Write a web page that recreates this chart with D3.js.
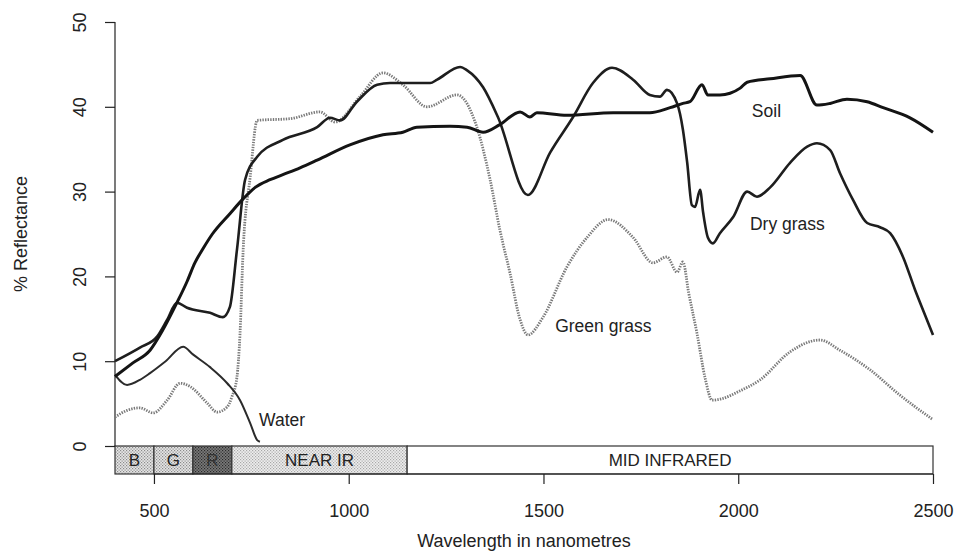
<!DOCTYPE html>
<html>
<head>
<meta charset="utf-8">
<title>Spectral reflectance</title>
<script src="https://d3js.org/d3.v7.min.js"></script>
<style>
  body { margin: 0; background: #fff; }
  text { font-family: "Liberation Sans", Arial, sans-serif; fill: #222; }
</style>
</head>
<body>
<script>
// reflectance curves, [wavelength nm, % reflectance]
var soil = [[400,8.2],[446,9.8],[490,11.3],[523,13.7],[559,16.9],[585,19.4],[605,21.6],[625,23.2],[650,25.0],[695,27.4],
  [730,29.2],[760,30.5],[798,31.4],[831,32.0],[875,32.8],[919,33.7],[1003,35.5],[1088,36.7],[1139,37.0],[1175,37.6],
  [1260,37.7],[1304,37.6],[1345,37.0],[1388,37.9],[1440,39.4],[1465,38.8],[1483,39.3],[1560,39.0],[1679,39.3],[1773,39.3],
  [1825,39.9],[1858,40.4],[1876,40.6],[1907,42.6],[1922,41.4],[1953,41.4],[1979,41.6],[2005,42.2],[2023,42.9],[2082,43.3],
  [2159,43.7],[2202,40.2],[2236,40.4],[2279,40.9],[2331,40.6],[2372,39.9],[2441,38.7],[2500,37.0]];

var dryGrass = [[400,10.0],[464,11.6],[508,12.9],[534,14.9],[559,16.9],[585,16.3],[644,15.7],[677,15.2],[695,16.4],[713,23.1],
  [734,31.4],[765,34.1],[831,36.1],[919,37.6],[952,38.7],[978,38.4],[1021,40.6],[1073,42.6],[1106,42.8],[1209,42.8],
  [1227,43.2],[1286,44.7],[1304,44.3],[1345,42.3],[1383,38.8],[1460,29.6],[1517,34.6],[1576,38.8],[1627,42.8],[1676,44.6],
  [1730,43.2],[1773,41.4],[1799,41.2],[1817,42.0],[1843,40.4],[1858,37.3],[1869,33.4],[1881,28.4],[1889,28.2],[1902,30.2],
  [1910,27.5],[1922,24.6],[1935,23.9],[1953,25.1],[1987,27.0],[2023,30.0],[2048,29.4],[2082,30.5],[2133,33.4],[2177,35.3],
  [2202,35.7],[2236,34.9],[2261,32.2],[2295,29.0],[2331,26.3],[2364,25.8],[2390,25.1],[2423,22.3],[2454,18.4],[2480,15.4],
  [2500,13.1]];

var greenGrass = [[400,3.4],[431,4.2],[464,4.5],[498,3.9],[534,5.4],[567,7.4],[593,7.0],[636,5.1],[662,4.0],[688,4.6],
  [700,5.8],[713,8.1],[721,13.3],[729,23.1],[747,31.7],[765,38.4],[850,38.6],[926,39.4],[965,38.2],[1029,41.2],
  [1088,44.0],[1139,42.6],[1201,40.0],[1278,41.4],[1329,37.6],[1363,31.4],[1388,25.5],[1414,20.4],[1440,14.9],[1460,13.1],
  [1499,15.2],[1560,21.1],[1612,24.6],[1666,26.7],[1730,24.6],[1781,21.6],[1817,22.3],[1843,20.5],[1858,21.7],[1873,18.0],
  [1894,13.3],[1915,8.0],[1933,5.4],[1960,5.6],[2000,6.4],[2056,7.8],[2133,11.1],[2210,12.5],[2261,11.3],[2338,9.0],
  [2415,6.0],[2500,3.1]];

var water = [[400,8.4],[431,7.2],[464,7.8],[490,8.6],[530,10.0],[575,11.7],[600,10.8],[644,9.3],[688,7.4],[721,5.4],
  [747,2.7],[765,0.7],[772,0.5]];

// spectral regions drawn under the plot
var bandNames = ["B", "G", "R", "NEAR IR", "MID INFRARED"];
var bandEdges = [400, 500, 600, 700, 1150, 2500];

var xTicks = [500, 1000, 1500, 2000, 2500];
var yTicks = [0, 10, 20, 30, 40, 50];

var width = 962, height = 556;

var x = d3.scaleLinear().domain([400, 2500]).range([115, 933]);
var y = d3.scaleLinear().domain([0, 50]).range([446, 22]);
var bandBottom = -3.3; // band box sits just below zero

var svg = d3.select("body").append("svg")
    .attr("width", width)
    .attr("height", height);

// stipple patterns for the band box
var defs = svg.append("defs");
function stipple(id, bg, dot){
    var p = defs.append("pattern")
        .attr("id", id)
        .attr("patternUnits", "userSpaceOnUse")
        .attr("width", 3).attr("height", 3);
    p.append("rect").attr("width", 3).attr("height", 3).attr("fill", bg);
    p.append("rect").attr("x", 0).attr("y", 0).attr("width", 1.2).attr("height", 1.2).attr("fill", dot);
    p.append("rect").attr("x", 1.5).attr("y", 1.5).attr("width", 1.2).attr("height", 1.2).attr("fill", dot);
}
stipple("lightDots", "#e6e6e6", "#8a8a8a");
stipple("paleDots", "#eeeeee", "#a8a8a8");
stipple("darkDots", "#7a7a7a", "#2a2a2a");
var bandFill = ["url(#lightDots)", "url(#lightDots)", "url(#darkDots)", "url(#paleDots)", "#fff"];

var bands = bandNames.map(function(n, i){ return {name: n, from: bandEdges[i], to: bandEdges[i + 1], fill: bandFill[i]}; });

var gBand = svg.append("g");
gBand.selectAll("rect")
    .data(bands)
    .enter().append("rect")
    .attr("x", function(d){ return x(d.from); })
    .attr("y", y(0))
    .attr("width", function(d){ return x(d.to) - x(d.from); })
    .attr("height", y(bandBottom) - y(0))
    .attr("fill", function(d){ return d.fill; })
    .attr("stroke", "#333")
    .attr("stroke-width", 1.2);

gBand.selectAll("text")
    .data(bands)
    .enter().append("text")
    .attr("x", function(d){ return (x(d.from) + x(d.to)) / 2; })
    .attr("y", y(bandBottom) - 8)
    .attr("text-anchor", "middle")
    .attr("font-size", 17)
    .style("fill", function(d){ return d.name == "R" ? "#333" : "#222"; })
    .text(function(d){ return d.name; });

// axes (R style: line only spans the ticks)
var xAxis = svg.append("g")
    .attr("transform", "translate(0," + y(bandBottom) + ")")
    .call(d3.axisBottom(x).tickValues(xTicks).tickFormat(d3.format("d"))
          .tickSize(10).tickPadding(20).tickSizeOuter(0));
xAxis.select(".domain").attr("d", "M" + x(500) + ",0H" + x(2500));

var yAxis = svg.append("g")
    .attr("transform", "translate(" + x(400) + ",0)")
    .call(d3.axisLeft(y).tickValues(yTicks).tickFormat(d3.format("d")).tickSize(10).tickSizeOuter(0));
yAxis.select(".domain").attr("d", "M0," + y(0) + "V" + y(50));

svg.selectAll(".domain, .tick line").attr("stroke", "#222").attr("stroke-width", 1.2);
svg.selectAll(".tick text").attr("font-size", 18).attr("font-family", null).style("fill", "#222");

// rotate y tick labels like R
yAxis.selectAll(".tick text")
    .attr("x", null).attr("dy", null)
    .attr("text-anchor", "middle")
    .attr("transform", "translate(-29,0) rotate(-90)");

svg.append("text")
    .attr("x", (x(400) + x(2500)) / 2)
    .attr("y", 547)
    .attr("text-anchor", "middle")
    .attr("font-size", 18)
    .text("Wavelength in nanometres");

svg.append("text")
    .attr("transform", "translate(27," + y(25) + ") rotate(-90)")
    .attr("text-anchor", "middle")
    .attr("font-size", 18)
    .text("% Reflectance");

// curves
var line = d3.line()
    .curve(d3.curveMonotoneX)
    .x(function(d){ return x(d[0]); })
    .y(function(d){ return y(d[1]); });

var series = [
    {name: "Green grass", data: greenGrass, color: "#7a7a7a", w: 2.8, dash: "1.4 1.2"},
    {name: "Water", data: water, color: "#2b2b2b", w: 2, dash: null},
    {name: "Dry grass", data: dryGrass, color: "#1e1e1e", w: 2.6, dash: null},
    {name: "Soil", data: soil, color: "#141414", w: 3, dash: null}
];

svg.append("g")
    .selectAll("path")
    .data(series)
    .enter().append("path")
    .attr("d", function(d){ return line(d.data); })
    .attr("fill", "none")
    .attr("stroke", function(d){ return d.color; })
    .attr("stroke-width", function(d){ return d.w; })
    .attr("stroke-dasharray", function(d){ return d.dash; })
    .attr("stroke-linejoin", "round");

// curve labels, anchored in data units
var labelNames = ["Soil", "Dry grass", "Green grass", "Water"];
var labelAt = [[2035, 38.8], [2030, 25.5], [1530, 13.4], [770, 2.4]];

svg.append("g")
    .selectAll("text")
    .data(labelNames)
    .enter().append("text")
    .attr("x", function(d, i){ return x(labelAt[i][0]); })
    .attr("y", function(d, i){ return y(labelAt[i][1]); })
    .attr("font-size", 17.5)
    .text(function(d){ return d; });
</script>
</body>
</html>
